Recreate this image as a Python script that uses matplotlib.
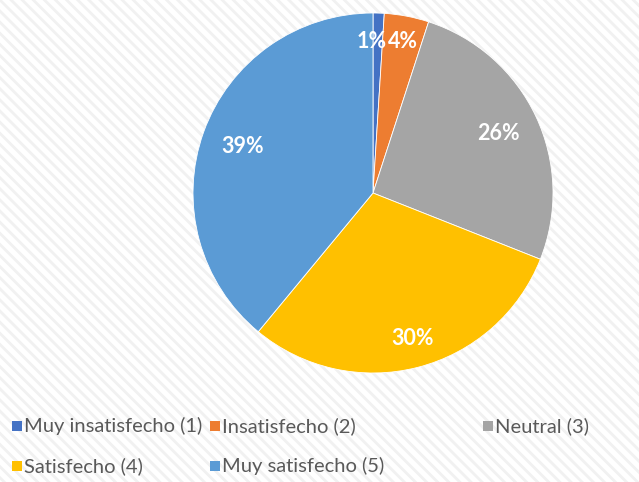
import matplotlib
matplotlib.use("Agg")
import matplotlib.pyplot as plt
from matplotlib.patches import Rectangle

# ── Data ──────────────────────────────────────────────────────────────────────
categories = ["Muy insatisfecho (1)", "Insatisfecho (2)", "Neutral (3)",
              "Satisfecho (4)", "Muy satisfecho (5)"]
shares = [1, 4, 26, 30, 39]
colors = ["#4472C4", "#ED7D31", "#A5A5A5", "#FFC000", "#5B9BD5"]

plt.rcParams["font.family"] = ["Lato", "DejaVu Sans"]
plt.rcParams["hatch.linewidth"] = 2.0

fig = plt.figure(figsize=(6.39, 4.82), dpi=100)
fig.patch.set_facecolor("white")

# light diagonal stripe background
bg = Rectangle((0, 0), 1, 1, transform=fig.transFigure, facecolor="white",
               edgecolor="#f1f1f1", hatch="\\\\\\", linewidth=0, zorder=-10)
fig.patches.append(bg)

# pie: centre ~ (373, 193) px, radius ~ 180 px
cx, cy, r = 373, 193, 180
W, H = 639, 482
ax = fig.add_axes([(cx - r) / W, 1 - (cy + r) / H, 2 * r / W, 2 * r / H])
ax.set_facecolor("none")
ax.set_zorder(5)

wedges, texts, autotexts = ax.pie(
    shares, colors=colors, startangle=90, counterclock=False,
    autopct=lambda p: f"{p:.0f}%", pctdistance=0.77,
    wedgeprops=dict(edgecolor="white", linewidth=0.6),
    textprops=dict(color="white", fontsize=15.5, fontweight="bold"),
)
# Excel-like label placement for the thin slices and the bottom one
autotexts[0].set_position((-0.01, 0.84))
autotexts[1].set_position((0.165, 0.84))
autotexts[3].set_position((0.22, -0.81))
ax.set_aspect("equal")
ax.set_xlim(-1, 1)
ax.set_ylim(-1, 1)
ax.axis("off")

# ── Legend (Excel-style, two rows) ───────────────────────────────────────────
legend_pos = [(12, 426), (210, 426), (483, 426), (12, 466), (210, 466)]
for (lx, ly), lab, col in zip(legend_pos, categories, colors):
    fig.patches.append(Rectangle((lx / W, 1 - (ly + 5) / H), 10 / W, 10 / H,
                                 transform=fig.transFigure, facecolor=col,
                                 edgecolor="none", zorder=2))
    fig.text((lx + 12) / W, 1 - ly / H, lab, fontsize=14.5, color="#595959",
             va="center", ha="left")

fig.savefig("out.png", dpi=100, facecolor=fig.get_facecolor())
